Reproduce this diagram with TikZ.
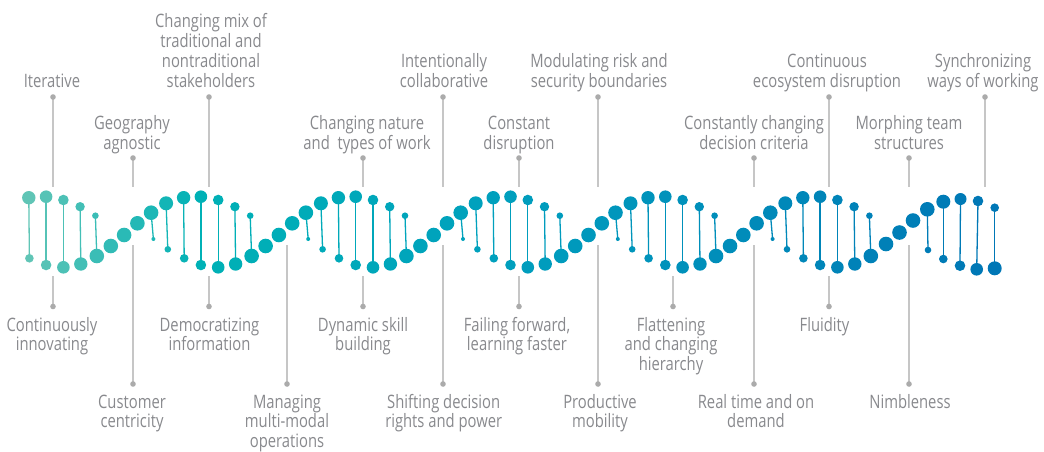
\documentclass[tikz,border=0pt]{standalone}
\usepackage{fontspec}
\setmainfont{Open Sans}[FakeStretch=0.8]
\definecolor{txt}{HTML}{88898D}
\definecolor{lead}{HTML}{C6C6C6}
\definecolor{leaddot}{HTML}{ABABAB}
\newcommand\hxcol[1]{%
  \pgfmathsetmacro\hxT{(#1-30)/170}%
  \pgfmathsetmacro\hxU{(#1-200)/300}%
  \pgfmathsetmacro\hxV{(#1-500)/500}%
  \pgfmathtruncatemacro\hxR{(#1<200)?(96-96*\hxT):0}%
  \pgfmathtruncatemacro\hxG{(#1<200)?(197-19*\hxT):((#1<500)?(178-18*\hxU):(160-41*\hxV))}%
  \pgfmathtruncatemacro\hxB{(#1<200)?182:((#1<500)?(182+8*\hxU):(190-8*\hxV))}%
  \definecolor{dc}{RGB}{\hxR,\hxG,\hxB}}
\newcommand\hxrung[6]{%
  \hxcol{#1}%
  \draw[dc, line width=1.3pt] (#1,#2) -- (#4,#5);
  \fill[dc] (#1,#2) circle[radius=#3pt];
  \fill[dc] (#4,#5) circle[radius=#6pt];}
\newcommand\hxsingle[3]{%
  \hxcol{#1}%
  \fill[dc] (#1,#2) circle[radius=#3pt];}
\tikzset{
  lbl/.style={font=\fontsize{18.5}{19.7}\selectfont, text=txt, align=center, inner sep=0pt, anchor=base},
  leader/.style={draw=lead, line width=1.2pt},
  leadend/.style={fill=leaddot}
}
\begin{document}
\begin{tikzpicture}[x=1pt,y=-1pt]
\useasboundingbox (0,0) rectangle (1044,451);
% ---------- leader lines and labels (top); anchor = baseline of last line ----------
\foreach \i/\xd/\yd/\ye/\xt/\yb/\tx in {
  1/53/97/187/52/87/{Iterative},
  2/133/158/187/132/149/{Geography\\agnostic},
  3/209/97/187/211/87/{Changing mix of\\traditional and\\nontraditional\\stakeholders},
  4/363/158/187/367/149/{Changing nature\\and~ types of work},
  5/443/97/187/444/87/{Intentionally\\collaborative},
  6/519/158/187/519/149/{Constant\\disruption},
  7/598/97/187/599/87/{Modulating risk and\\security boundaries},
  8/754/158/187/754/149/{Constantly changing\\decision criteria},
  9/829/97/187/827/87/{Continuous\\ecosystem disruption},
  10/909/158/187/909/149/{Morphing team\\structures},
  11/985/97/187/983/87/{Synchronizing\\ways of working}}{
  \node[lbl] (top\i) at (\xt,\yb) {\tx};
  \coordinate (topd\i) at (\xd,\yd);
  \coordinate (tope\i) at (\xd,\ye);
  \draw[leader] (topd\i) -- (tope\i);
  \fill[leadend] (topd\i) circle[radius=2.8pt];
}
% ---------- leader lines and labels (bottom) ----------
\foreach \i/\xd/\yd/\ys/\xt/\yb/\tx in {
  1/53/306.5/276/52/350.7/{Continuously\\innovating},
  2/133/384/245/132/427.7/{Customer\\centricity},
  3/209/306.5/276/209.5/350.7/{Democratizing\\information},
  4/287/384/245/287/447.4/{Managing\\multi-modal\\operations},
  5/363/306.5/276/363/350.7/{Dynamic skill\\building},
  6/443/384/245/443.7/427.7/{Shifting decision\\rights and power},
  7/519/306.5/276/517/350.7/{Failing forward,\\learning faster},
  8/598/384/245/600/427.7/{Productive\\mobility},
  9/673/306.5/276/671/370.4/{Flattening\\and changing\\hierarchy},
  10/754/384/245/756/427.7/{Real time and on\\demand},
  11/829/306.5/276/824.5/331/{Fluidity},
  12/909/384/245/910/408/{Nimbleness}}{
  \node[lbl] (bot\i) at (\xt,\yb) {\tx};
  \coordinate (botd\i) at (\xd,\yd);
  \coordinate (bots\i) at (\xd,\ys);
  \draw[leader] (bots\i) -- (botd\i);
  \fill[leadend] (botd\i) circle[radius=2.8pt];
}
% ---------- helix ----------
\foreach \n in {0,...,5}{
  \pgfmathsetmacro\bx{28.8+154.8*\n}
  \foreach \da/\ya/\ra/\db/\yb/\rb in {
    0/197.7/6.7/0.6/258.3/4.3,
    17.3/196.7/6.3/17.3/265/5.3,
    34.6/200/5.3/34.6/267.3/6.3,
    51.3/206.7/4.7/52/264/6.7,
    66.6/215.7/3.3/68/256/7.3}{
    \pgfmathsetmacro\xa{\bx+\da}
    \pgfmathsetmacro\xb{\bx+\db}
    \hxrung{\xa}{\ya}{\ra}{\xb}{\yb}{\rb}
  }
}
\foreach \n in {0,...,4}{
  \pgfmathsetmacro\bx{28.8+154.8*\n}
  \foreach \da/\ya in {82/246, 95.3/235, 108.6/223.3}{
    \pgfmathsetmacro\xa{\bx+\da}
    \hxsingle{\xa}{\ya}{7.3}
  }
  \foreach \da/\ya/\ra/\db/\yb/\rb in {
    122.3/212.7/7.3/124.6/239/2,
    137.3/203.3/7/139/249.3/3.3}{
    \pgfmathsetmacro\xa{\bx+\da}
    \pgfmathsetmacro\xb{\bx+\db}
    \hxrung{\xa}{\ya}{\ra}{\xb}{\yb}{\rb}
  }
}
% right end
\hxsingle{886}{244}{7.3}
\hxsingle{899.5}{232.5}{7.3}
\hxsingle{913}{220.5}{7.3}
\hxrung{927.3}{209.3}{7.3}{928}{250}{3.3}
\hxrung{943.3}{201.7}{7}{943.3}{259}{4.3}
\hxrung{960.5}{199}{6}{960}{265.7}{5.3}
\hxrung{978}{201}{5.3}{976.7}{269.3}{6.3}
\hxrung{994.7}{207.7}{4.3}{994.7}{268.3}{7}
\end{tikzpicture}
\end{document}
